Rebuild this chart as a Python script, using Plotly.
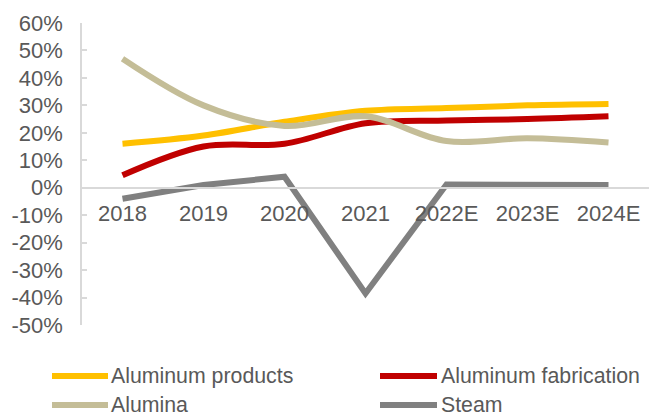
import plotly.graph_objects as go

years = ["2018", "2019", "2020", "2021", "2022E", "2023E", "2024E"]
aluminum_products = [16, 19, 24, 28, 29, 30, 30.5]
aluminum_fabrication = [4.5, 15, 16, 23.5, 24.5, 25, 26]
alumina = [47, 30, 22.5, 26, 17, 18, 16.5]
steam = [-4, 1, 4, -38.5, 1.2, 1, 1]

y_ticks = list(range(-50, 61, 10))
y_min, y_max = -50, 60

font_family = "Liberation Sans, Arial, sans-serif"
text_color = "#595959"
axis_color = "#D9D9D9"

series = [
    ("Aluminum products", aluminum_products, "#FFC000", "spline"),
    ("Aluminum fabrication", aluminum_fabrication, "#C00000", "spline"),
    ("Alumina", alumina, "#C4BD97", "spline"),
    ("Steam", steam, "#808080", "linear"),
]

W, H = 657, 412
M = dict(l=82, r=8, t=23, b=87)
plot_w = W - M["l"] - M["r"]
plot_h = H - M["t"] - M["b"]


def px_to_paper_x(px):
    return (px - M["l"]) / plot_w


def px_to_paper_y(py):
    return (H - M["b"] - py) / plot_h


fig = go.Figure()
for name, vals, color, shape in series:
    fig.add_trace(go.Scatter(
        x=years, y=vals, name=name, mode="lines", showlegend=False,
        line=dict(color=color, width=6, shape=shape, smoothing=1),
    ))

# two-column legend below the plot: swatch line + label per series
legend_cols = [(52, 108, 110), (380, 437, 440)]   # swatch start, swatch end, text start (px)
legend_rows = [376, 405]                           # row centres (px)
for i, (name, _, color, _) in enumerate(series):
    col = legend_cols[i % 2]
    row = legend_rows[i // 2]
    yy = px_to_paper_y(row)
    fig.add_shape(
        type="line", xref="paper", yref="paper",
        x0=px_to_paper_x(col[0]), x1=px_to_paper_x(col[1]), y0=yy, y1=yy,
        line=dict(color=color, width=6),
    )
    fig.add_annotation(
        text=name, xref="paper", yref="paper",
        x=px_to_paper_x(col[2]), y=yy, xanchor="left", yanchor="middle",
        showarrow=False, borderpad=0,
        font=dict(size=21.3, color=text_color, family=font_family),
    )

# x axis sits on the zero line of the y axis
x_pos = (0 - y_min) / (y_max - y_min)

fig.update_layout(
    width=W, height=H,
    margin=dict(**M, autoexpand=False),
    plot_bgcolor="white", paper_bgcolor="white",
    font=dict(family=font_family, size=22, color=text_color),
    showlegend=False,
    xaxis=dict(
        type="category", anchor="free", position=x_pos,
        showline=True, linecolor=axis_color, linewidth=1.5,
        showgrid=False, ticks="", zeroline=False,
        tickfont=dict(size=22, color=text_color),
        ticklabelstandoff=6,
        range=[-0.5, 6.5],
    ),
    yaxis=dict(
        range=[y_min, y_max], tickvals=y_ticks,
        ticktext=[f"{v}%" for v in y_ticks],
        showline=True, linecolor=axis_color, linewidth=1.5,
        ticks="inside", ticklen=5, tickcolor=axis_color, tickwidth=1.5,
        showgrid=False, zeroline=False,
        tickfont=dict(size=22, color=text_color),
        ticklabelstandoff=13,
    ),
)

fig.write_html("out.html")
